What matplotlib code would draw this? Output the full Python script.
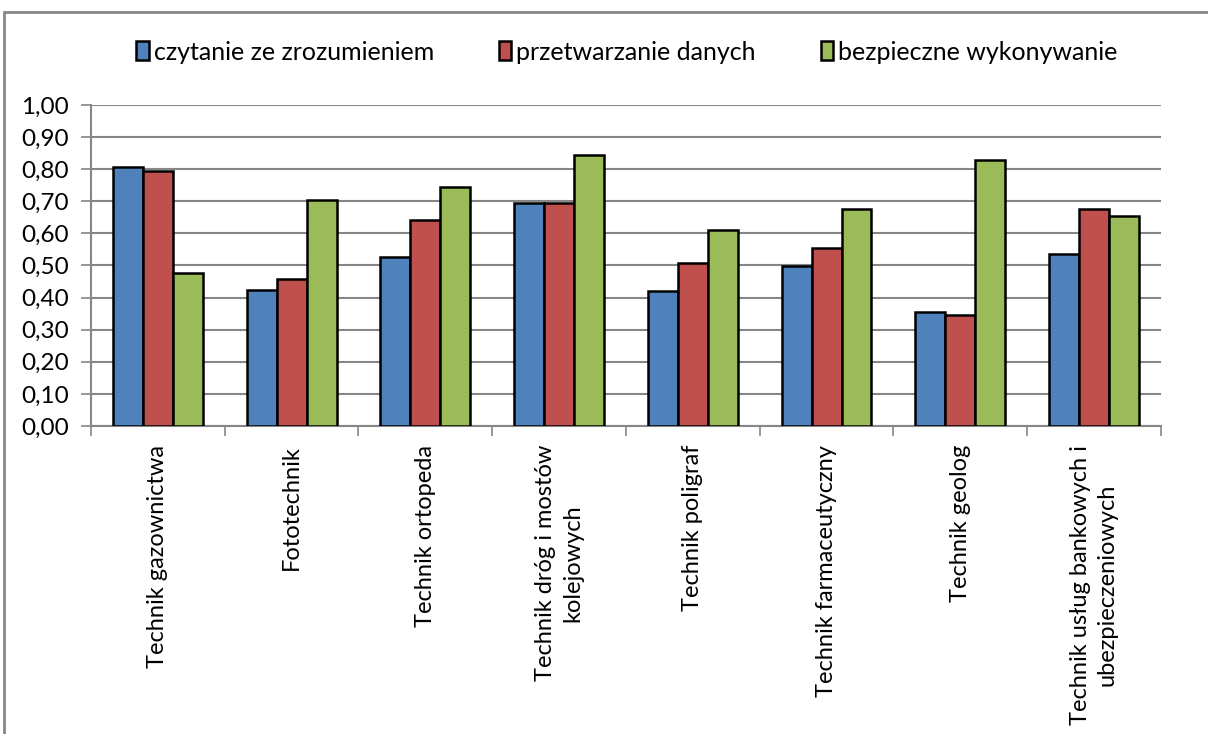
import matplotlib.pyplot as plt
import numpy as np
from matplotlib.patches import Rectangle

categories = [
    "Technik gazownictwa",
    "Fototechnik",
    "Technik ortopeda",
    "Technik dróg i mostów\nkolejowych",
    "Technik poligraf",
    "Technik farmaceutyczny",
    "Technik geolog",
    "Technik usług bankowych i\nubezpieczeniowych",
]
series_names = ["czytanie ze zrozumieniem", "przetwarzanie danych", "bezpieczne wykonywanie"]
czytanie = [0.808, 0.424, 0.526, 0.694, 0.419, 0.497, 0.354, 0.537]
przetwarzanie = [0.793, 0.458, 0.643, 0.694, 0.509, 0.556, 0.347, 0.676]
bezpieczne = [0.478, 0.705, 0.743, 0.843, 0.612, 0.677, 0.829, 0.655]
yticks = [0.0, 0.1, 0.2, 0.3, 0.4, 0.5, 0.6, 0.7, 0.8, 0.9, 1.0]

colors = ["#4f81bd", "#c0504d", "#9bbb59"]
grid_color = "#868686"

plt.rcParams["font.family"] = ["Lato", "DejaVu Sans"]

fig = plt.figure(figsize=(12.08, 7.34), dpi=100)
ax = fig.add_axes([0.0753, 0.4196, 0.8857, 0.4374])

x = np.arange(len(categories))
w = 0.224
for i, vals in enumerate([czytanie, przetwarzanie, bezpieczne]):
    ax.bar(x + (i - 1) * w, vals, width=w, color=colors[i], edgecolor="black",
           linewidth=1.8, label=series_names[i], zorder=3)

ax.set_xlim(-0.5, len(categories) - 0.5)
ax.set_ylim(0, 1.0)
ax.set_yticks(yticks)
ax.set_yticklabels([f"{v:.2f}".replace(".", ",") for v in yticks], fontsize=17.5)
ax.yaxis.grid(True, color=grid_color, linewidth=1.5, zorder=0)
ax.tick_params(axis="y", length=7, width=1.2, color=grid_color, pad=9)

ax.set_xticks(np.arange(len(categories) + 1) - 0.5)
ax.set_xticklabels([])
ax.tick_params(axis="x", length=7, width=1.2, color=grid_color)
for i, cat in enumerate(categories):
    ax.text(i, -0.058, cat, rotation=90, ha="center", va="top", fontsize=17,
            multialignment="center", linespacing=1.35,
            transform=ax.get_xaxis_transform())

for side in ["top", "right"]:
    ax.spines[side].set_visible(False)
for side in ["left", "bottom"]:
    ax.spines[side].set_color(grid_color)
    ax.spines[side].set_linewidth(1.5)

fig.legend(loc="center", bbox_to_anchor=(0.519, 0.929), ncol=3, frameon=False,
           fontsize=18, handlelength=0.5, handleheight=0.8, handletextpad=0.2,
           columnspacing=2.6)

fig.patches.append(Rectangle((4 / 1208, -0.1), 1.2, 1.1 - 12 / 734, transform=fig.transFigure,
                             fill=False, edgecolor=grid_color, linewidth=2))

fig.savefig("out.png", dpi=100)
